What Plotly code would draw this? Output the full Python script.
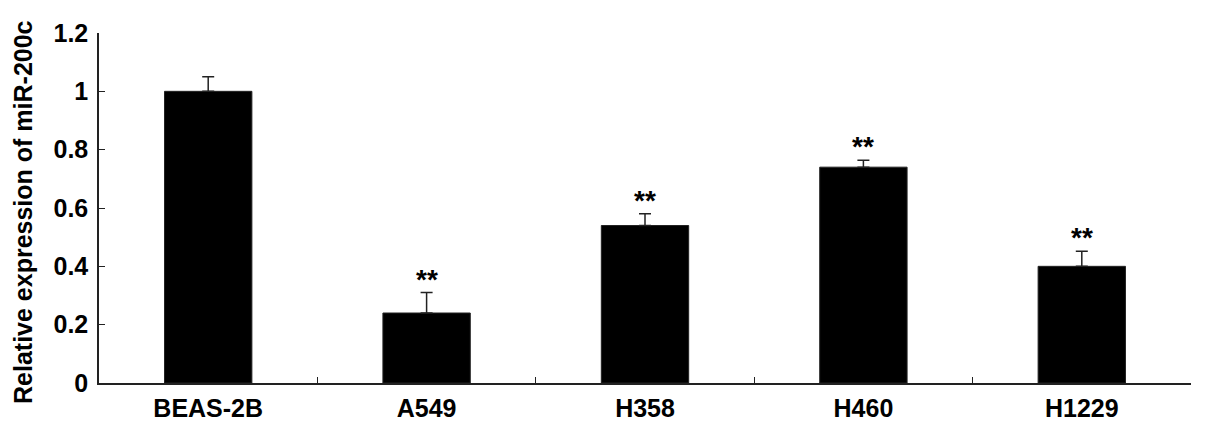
import plotly.graph_objects as go

# --- Data ---
cell_lines = ["BEAS-2B", "A549", "H358", "H460", "H1229"]
expression = [1.0, 0.24, 0.54, 0.74, 0.40]
error_up = [0.05, 0.07, 0.04, 0.024, 0.052]
significance = ["", "**", "**", "**", "**"]
y_ticks = [0, 0.2, 0.4, 0.6, 0.8, 1.0, 1.2]
y_tick_labels = ["0", "0.2", "0.4", "0.6", "0.8", "1", "1.2"]
y_title = "Relative expression of miR-200c"

FONT = "Liberation Sans, Arial, sans-serif"

fig = go.Figure()
fig.add_trace(
    go.Bar(
        x=cell_lines,
        y=expression,
        width=0.4,
        marker=dict(color="black", line=dict(color="#222", width=1)),
        error_y=dict(
            type="data",
            symmetric=False,
            array=error_up,
            arrayminus=[0] * len(error_up),
            color="#222",
            thickness=1.5,
            width=6,
        ),
        showlegend=False,
    )
)

# significance stars above the error bars
for name, val, err, sig in zip(cell_lines, expression, error_up, significance):
    if sig:
        fig.add_annotation(
            x=name,
            y=val + err,
            text="<b>" + sig + "</b>",
            showarrow=False,
            yanchor="bottom",
            yshift=-4,
            font=dict(family=FONT, size=28, color="black"),
        )

# y-axis title as a rotated annotation so it can sit close to the page edge
fig.add_annotation(
    xref="paper", yref="paper",
    x=0, y=0.5,
    xanchor="center", yanchor="middle",
    xshift=-76, yshift=-4,
    textangle=-90,
    text="<b>" + y_title + "</b>",
    showarrow=False,
    font=dict(family=FONT, size=25, color="black"),
)

# page body has an 8px default margin, so the figure is sized to fit inside it
fig.update_layout(
    width=1189,
    height=417,
    margin=dict(l=91, r=6, t=25, b=42),
    plot_bgcolor="white",
    paper_bgcolor="white",
    font=dict(family=FONT, color="black"),
    xaxis=dict(
        showline=True,
        linecolor="#222",
        linewidth=1.5,
        ticks="inside",
        tickson="boundaries",
        ticklen=6,
        tickwidth=1.2,
        tickcolor="#222",
        showgrid=False,
        zeroline=False,
        automargin=False,
        tickfont=dict(family=FONT, size=25, color="black", weight="bold"),
        ticklabelstandoff=2,
    ),
    yaxis=dict(
        range=[0, 1.2],
        tickvals=y_ticks,
        ticktext=y_tick_labels,
        showline=True,
        linecolor="#222",
        linewidth=1.5,
        ticks="inside",
        ticklen=6,
        tickwidth=1.2,
        tickcolor="#222",
        showgrid=False,
        zeroline=False,
        automargin=False,
        tickfont=dict(family=FONT, size=25, color="black", weight="bold"),
        ticklabelstandoff=4,
    ),
)

fig.write_html("out.html")
